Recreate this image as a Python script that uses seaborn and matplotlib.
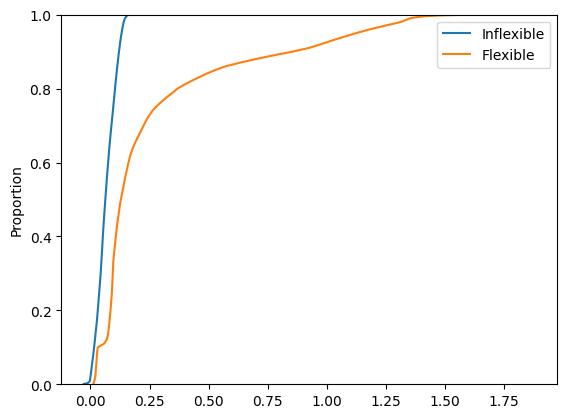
import numpy as np
import matplotlib
matplotlib.use('Agg')
import matplotlib.pyplot as plt
import seaborn as sns

# values, with the cumulative proportion reached at each value
inflexible_x = [-0.028, -0.012, -0.003,
                0.000, 0.004, 0.008, 0.012, 0.0155, 0.019, 0.022, 0.0255, 0.0285, 0.031,
                0.0335, 0.036, 0.0385, 0.041, 0.0432, 0.0452, 0.0471, 0.0489, 0.0507, 0.0525,
                0.0544, 0.0564, 0.0586, 0.0608, 0.063, 0.0653, 0.0675, 0.0698, 0.0723, 0.0749,
                0.0774, 0.08, 0.0827, 0.0857, 0.0888, 0.0919, 0.095, 0.098, 0.101, 0.104,
                0.1071, 0.1103, 0.1136, 0.1171, 0.1208, 0.1248, 0.1292, 0.1342, 0.1405,
                0.146, 0.155, 0.165]
inflexible_p = [0.001, 0.003, 0.008,
                0.02, 0.04, 0.06, 0.08, 0.10, 0.12, 0.14, 0.16, 0.18, 0.20,
                0.22, 0.24, 0.26, 0.28, 0.30, 0.32, 0.34, 0.36, 0.38, 0.40,
                0.42, 0.44, 0.46, 0.48, 0.50, 0.52, 0.54, 0.56, 0.58, 0.60,
                0.62, 0.64, 0.66, 0.68, 0.70, 0.72, 0.74, 0.76, 0.78, 0.80,
                0.82, 0.84, 0.86, 0.88, 0.90, 0.92, 0.94, 0.96, 0.98,
                0.99, 0.998, 1.0]

flexible_x = [0.013,
              0.017, 0.0205, 0.0218, 0.023, 0.0242, 0.0254, 0.0266, 0.0278, 0.029, 0.031,
              0.058, 0.068, 0.073, 0.0755, 0.0775, 0.079, 0.0805, 0.082, 0.0835, 0.085,
              0.0862, 0.0874, 0.0886, 0.0898, 0.0909, 0.0917, 0.0924, 0.0931, 0.0938, 0.0945,
              0.0952, 0.0959, 0.0966, 0.0977, 0.0993, 0.101, 0.1026, 0.1043, 0.1059, 0.1075,
              0.1092, 0.1108, 0.1127, 0.1148, 0.117, 0.1192, 0.1214, 0.1236, 0.1258, 0.1288,
              0.1319, 0.135, 0.1381, 0.1412, 0.1441, 0.147, 0.1505, 0.154, 0.1575, 0.161,
              0.1648, 0.169, 0.174, 0.180, 0.1865, 0.194, 0.2016, 0.2094, 0.2172, 0.225,
              0.2328, 0.2411, 0.2515, 0.2625, 0.2765, 0.293, 0.311, 0.3295, 0.35, 0.368,
              0.395, 0.425, 0.457, 0.49, 0.527, 0.57, 0.632, 0.70, 0.775, 0.855,
              0.925, 0.975, 1.022, 1.072, 1.124, 1.18, 1.245, 1.312, 1.352,
              1.368, 1.39, 1.42, 1.48, 1.58, 1.88]
flexible_p = [0.002,
              0.01, 0.02, 0.03, 0.04, 0.05, 0.06, 0.07, 0.08, 0.09, 0.10,
              0.11, 0.12, 0.13, 0.14, 0.15, 0.16, 0.17, 0.18, 0.19, 0.20,
              0.21, 0.22, 0.23, 0.24, 0.25, 0.26, 0.27, 0.28, 0.29, 0.30,
              0.31, 0.32, 0.33, 0.34, 0.35, 0.36, 0.37, 0.38, 0.39, 0.40,
              0.41, 0.42, 0.43, 0.44, 0.45, 0.46, 0.47, 0.48, 0.49, 0.50,
              0.51, 0.52, 0.53, 0.54, 0.55, 0.56, 0.57, 0.58, 0.59, 0.60,
              0.61, 0.62, 0.63, 0.64, 0.65, 0.66, 0.67, 0.68, 0.69, 0.70,
              0.71, 0.72, 0.73, 0.74, 0.75, 0.76, 0.77, 0.78, 0.79, 0.80,
              0.81, 0.82, 0.83, 0.84, 0.85, 0.86, 0.87, 0.88, 0.89, 0.90,
              0.91, 0.92, 0.93, 0.94, 0.95, 0.96, 0.97, 0.98, 0.99,
              0.992, 0.994, 0.996, 0.998, 0.9995, 1.0]

fig, ax = plt.subplots(figsize=(6.4, 4.8))

sns.ecdfplot(x=inflexible_x, weights=np.diff(inflexible_p, prepend=0), label='Inflexible', ax=ax)
sns.ecdfplot(x=flexible_x, weights=np.diff(flexible_p, prepend=0), label='Flexible', ax=ax)

# the original comes from many samples, so its steps are too small to see
for line in ax.lines:
    line.set_drawstyle('default')

ax.set_xlabel('')
ax.legend(loc='upper right')

fig.savefig('out.png', dpi=100, bbox_inches='tight')
